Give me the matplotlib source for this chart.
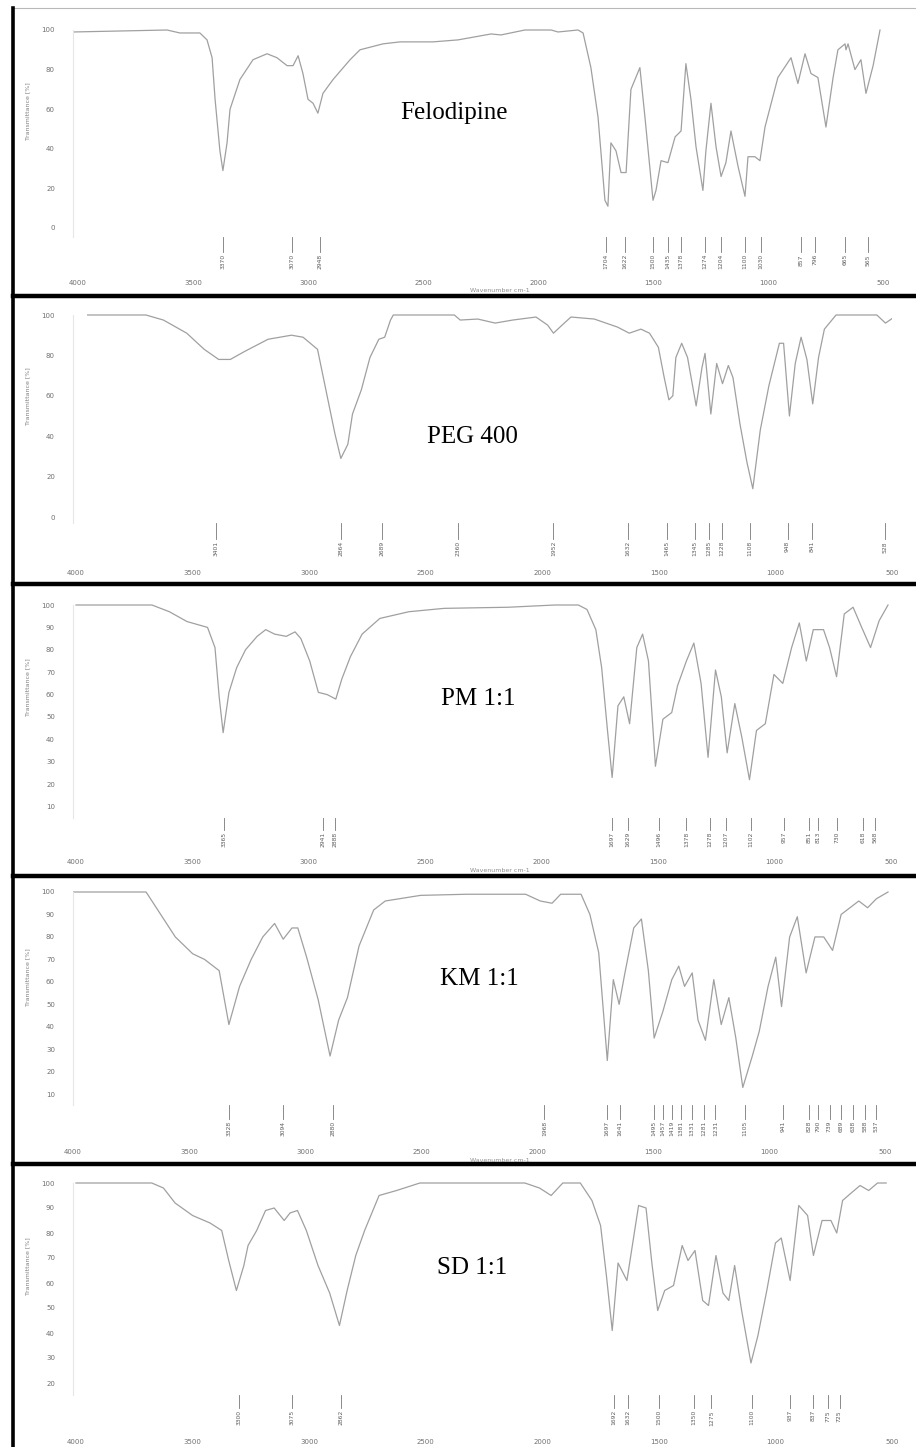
import matplotlib
matplotlib.use('Agg')
import matplotlib.pyplot as plt
from matplotlib.lines import Line2D

W, H = 916, 1447
plt.rcParams['font.family'] = ['Liberation Serif', 'DejaVu Serif']

# ---------------- data ----------------
x_ticks = [4000, 3500, 3000, 2500, 2000, 1500, 1000, 500]
x_tick_labels = ['4000', '3500', '3000', '2500', '2000', '1500', '1000', '500']

felo_wn = [4022, 3613, 3557, 3470, 3439, 3417, 3404, 3383, 3370, 3352, 3339, 3296, 3239, 3178, 3135,
           3091, 3065, 3043, 3022, 3000, 2978, 2957, 2935, 2891, 2817, 2774, 2674, 2600, 2457, 2348,
           2204, 2161, 2057, 1943, 1913, 1826, 1804, 1770, 1739, 1709, 1696, 1683, 1661, 1639, 1617,
           1596, 1557, 1535, 1500, 1487, 1465, 1435, 1404, 1378, 1357, 1335, 1313, 1283, 1270, 1248,
           1226, 1204, 1183, 1161, 1130, 1100, 1087, 1057, 1035, 1013, 957, 900, 870, 839, 813, 783,
           748, 717, 696, 665, 661, 652, 622, 596, 574, 543, 513]
felo_t = [99, 100, 98.5, 98.5, 95, 86, 65, 39, 29, 43, 60, 75, 85, 88, 86,
          82, 82, 87, 78, 65, 63, 58, 68, 75, 85, 90, 93, 94, 94, 95,
          98, 97.5, 100, 100, 99, 100, 98.5, 81, 56, 14, 11, 43, 39, 28, 28,
          70, 81, 56, 14, 19, 34, 33, 46, 49, 83, 65, 41, 19, 39, 63,
          41, 26, 33, 49, 31, 16, 36, 36, 34, 51, 76, 86, 73, 88, 78, 76,
          51, 76, 90, 93, 90, 93, 80, 85, 68, 82, 100]
felo_peaks = [3370, 3070, 2948, 1704, 1622, 1500, 1435, 1378, 1274, 1204, 1100, 1030, 857, 796, 665, 565]

peg_wn = [3950, 3700, 3625, 3525, 3450, 3388, 3338, 3276, 3176, 3076, 3026, 2964, 2939, 2914, 2889,
          2864, 2834, 2814, 2776, 2739, 2701, 2676, 2651, 2639, 2377, 2352, 2277, 2202, 2127, 2027,
          1977, 1952, 1915, 1877, 1777, 1677, 1627, 1577, 1540, 1502, 1477, 1457, 1440, 1427, 1402,
          1377, 1340, 1315, 1302, 1277, 1252, 1227, 1202, 1182, 1152, 1122, 1097, 1065, 1028, 983,
          965, 940, 915, 890, 865, 840, 815, 790, 740, 565, 528, 490]
peg_t = [100, 100, 97.5, 91, 83, 78, 78, 82, 88, 90, 89, 83, 69, 55, 41,
         29, 36, 51, 63, 79, 88, 89, 97.5, 100, 100, 97.5, 98, 96, 97.5, 99,
         95, 91, 95, 99, 98, 94, 91, 93, 91, 84, 69, 58, 60, 79, 86,
         79, 55, 74, 81, 51, 76, 66, 75, 69, 46, 27, 14, 43, 65, 86,
         86, 50, 76, 89, 78, 56, 79, 93, 100, 100, 96, 99]
peg_peaks = [3401, 2864, 2689, 2360, 1952, 1632, 1465, 1345, 1285, 1228, 1108, 948, 841, 528]

pm_wn = [4000, 3674, 3599, 3523, 3435, 3403, 3385, 3368, 3343, 3310, 3272, 3222, 3185, 3147, 3097,
         3059, 3034, 2996, 2959, 2921, 2884, 2858, 2821, 2771, 2695, 2570, 2419, 2143, 1943, 1842,
         1805, 1767, 1742, 1717, 1697, 1672, 1647, 1622, 1591, 1566, 1541, 1511, 1479, 1441, 1416,
         1378, 1346, 1315, 1285, 1253, 1228, 1203, 1170, 1140, 1107, 1077, 1039, 1002, 964, 926,
         893, 863, 833, 789, 763, 733, 700, 662, 625, 587, 550, 512]
pm_t = [100, 100, 97, 92.6, 90, 81, 59, 43, 61, 72, 80, 86, 89, 87, 86,
        88, 85, 75, 61, 60, 58, 67, 77, 87, 94, 97, 98.5, 99, 100, 100,
        98, 89, 72, 44, 23, 55, 59, 47, 81, 87, 75, 28, 49, 52, 64,
        75, 83, 65, 32, 71, 59, 34, 56, 41, 22, 44, 47, 69, 65, 81,
        92, 75, 89, 89, 81, 68, 96, 99, 90, 81, 93, 100]
pm_peaks = [3365, 2941, 2888, 1697, 1629, 1496, 1378, 1278, 1207, 1102, 957, 851, 813, 730, 618, 568]

km_wn = [4000, 3685, 3622, 3559, 3484, 3433, 3370, 3328, 3282, 3232, 3182, 3131, 3094, 3056, 3031,
         2993, 2943, 2892, 2855, 2817, 2767, 2704, 2654, 2502, 2302, 2049, 1986, 1935, 1898, 1810,
         1772, 1734, 1697, 1671, 1646, 1621, 1583, 1550, 1520, 1495, 1457, 1419, 1389, 1364, 1331,
         1306, 1274, 1238, 1206, 1173, 1143, 1113, 1072, 1042, 1004, 971, 946, 911, 878, 840,
         802, 764, 726, 689, 651, 613, 575, 537, 487]
km_t = [100, 100, 90, 80, 72.5, 70, 65, 41, 58, 70, 80, 86, 79, 84, 84,
        71, 52, 27, 43, 53, 76, 92, 96, 98.5, 99, 99, 96, 95, 99, 99,
        90, 73, 25, 61, 50, 64, 84, 88, 65, 35, 47, 61, 67, 58, 64,
        43, 34, 61, 41, 53, 35, 13, 27, 38, 58, 71, 49, 80, 89, 64,
        80, 80, 74, 90, 93, 96, 93, 97, 100]
km_peaks = [3328, 3094, 2880, 1968, 1697, 1641, 1495, 1457, 1419, 1381, 1331, 1281, 1231, 1105,
            941, 828, 790, 739, 689, 638, 588, 537]

sd_wn = [4000, 3675, 3625, 3575, 3500, 3425, 3375, 3345, 3312, 3280, 3262, 3225, 3187, 3150, 3107,
         3082, 3050, 3012, 2962, 2912, 2870, 2837, 2800, 2762, 2700, 2625, 2525, 2325, 2075, 2012,
         1962, 1912, 1837, 1787, 1750, 1725, 1700, 1675, 1637, 1612, 1587, 1555, 1530, 1505, 1475,
         1437, 1400, 1375, 1345, 1312, 1287, 1255, 1225, 1200, 1175, 1145, 1105, 1075, 1037, 1000,
         975, 937, 900, 862, 837, 800, 762, 737, 712, 675, 637, 600, 562, 525]
sd_t = [100, 100, 98, 92, 87, 84, 81, 69, 57, 67, 75, 81, 89, 90, 85,
        88, 89, 81, 67, 56, 43, 57, 71, 81, 95, 97, 100, 100, 100, 98,
        95, 100, 100, 93, 83, 63, 41, 68, 61, 76, 91, 90, 68, 49, 57,
        59, 75, 69, 73, 53, 51, 71, 56, 53, 67, 49, 28, 39, 57, 76,
        78, 61, 91, 87, 71, 85, 85, 80, 93, 96, 99, 97, 100, 100]
sd_peaks = [3300, 3075, 2862, 1692, 1632, 1500, 1350, 1275, 1100, 937, 837, 775, 725]

names = ['Felodipine', 'PEG 400', 'PM 1:1', 'KM 1:1', 'SD 1:1']
y_ticks_list = [[100, 80, 60, 40, 20, 0],
                [100, 80, 60, 40, 20, 0],
                [100, 90, 80, 70, 60, 50, 40, 30, 20, 10],
                [100, 90, 80, 70, 60, 50, 40, 30, 20, 10],
                [100, 90, 80, 70, 60, 50, 40, 30, 20]]

spectra = [(felo_wn, felo_t, felo_peaks), (peg_wn, peg_t, peg_peaks), (pm_wn, pm_t, pm_peaks),
           (km_wn, km_t, km_peaks), (sd_wn, sd_t, sd_peaks)]

# ---------------- layout (pixel geometry of each scanned panel) ----------------
layout = [
    dict(x0=78, sx=0.2300, y100=30, sy=1.98, top=20, bottom=277, mk=(237, 252), lab=254, name_xy=(454, 113), xlab_y=290),
    dict(x0=76, sx=0.2339, y100=315, sy=2.02, top=305, bottom=567, mk=(523, 539), lab=541, name_xy=(472, 437), xlab_y=None),
    dict(x0=76, sx=0.2328, y100=605, sy=2.24, top=592, bottom=856, mk=(818, 830), lab=832, name_xy=(478, 699), xlab_y=871),
    dict(x0=73, sx=0.2320, y100=892, sy=2.247, top=884, bottom=1146, mk=(1105, 1119), lab=1121, name_xy=(479, 979), xlab_y=1160),
    dict(x0=76, sx=0.2337, y100=1183, sy=2.50, top=1173, bottom=1436, mk=(1395, 1408), lab=1410, name_xy=(472, 1268), xlab_y=None),
]

fig = plt.figure(figsize=(W / 100, H / 100), dpi=100)
LEFT, RIGHT = 73, 892
line_col = '#a0a0a0'
tick_col = '#707070'

def T_of(py, L):
    return 100 - (py - L['y100']) / L['sy']

for (wn, tt, peaks), L, name, yt in zip(spectra, layout, names, y_ticks_list):
    ax = fig.add_axes([LEFT / W, 1 - L['bottom'] / H, (RIGHT - LEFT) / W, (L['bottom'] - L['top']) / H])
    ax.set_xlim(4000 - (LEFT - L['x0']) / L['sx'], 4000 - (RIGHT - L['x0']) / L['sx'])
    ax.set_ylim(T_of(L['bottom'], L), T_of(L['top'], L))
    ax.plot(wn, tt, color=line_col, lw=0.9)
    # peak markers
    t_top, t_bot = T_of(L['mk'][0], L), T_of(L['mk'][1], L)
    t_lab = T_of(L['lab'], L)
    for p in peaks:
        ax.plot([p, p], [t_top, t_bot], color='#777777', lw=0.6)
        ax.text(p, t_lab, str(p), rotation=90, ha='center', va='top', fontsize=4.3,
                color='#5c5c5c', family='DejaVu Sans')
    for s in ['top', 'right', 'bottom']:
        ax.spines[s].set_visible(False)
    ax.spines['left'].set_color('#e6e6e6')
    ax.spines['left'].set_linewidth(0.8)
    ax.spines['left'].set_bounds(T_of(L['mk'][0], L), 100)
    ax.set_xticks(x_ticks)
    ax.set_xticklabels(x_tick_labels, fontsize=5, color=tick_col, family='DejaVu Sans')
    ax.set_yticks(yt)
    ax.set_yticklabels([str(v) for v in yt], fontsize=5, color=tick_col, family='DejaVu Sans')
    ax.tick_params(axis='x', length=0, pad=2)
    ax.tick_params(axis='y', length=0, pad=13)
    ax.patch.set_alpha(0)
    # sample name
    fig.text(L['name_xy'][0] / W, 1 - L['name_xy'][1] / H, name, ha='center', va='center',
             fontsize=18, color='black')
    # y label
    fig.text(28 / W, 1 - (L['top'] + 0.42 * (L['mk'][0] - L['top'])) / H, 'Transmittance [%]',
             rotation=90, ha='center', va='center', fontsize=4.5, color='#808080', family='DejaVu Sans')
    if L['xlab_y'] is not None:
        fig.text(500 / W, 1 - L['xlab_y'] / H, 'Wavenumber cm-1', ha='center', va='center',
                 fontsize=4.5, color='#909090', family='DejaVu Sans')

# frame lines of the scanned collage
fig.add_artist(Line2D([13 / W, 1], [1 - 8 / H, 1 - 8 / H], color='#b8b8b8', lw=0.8))
for yb in [296, 584, 876, 1164]:
    fig.add_artist(Line2D([13 / W, 1], [1 - yb / H, 1 - yb / H], color='black', lw=3.2))
fig.add_artist(Line2D([13 / W, 13 / W], [1 - 8 / H, 0], color='black', lw=2.6))

fig.savefig('out.png', dpi=100, facecolor='white')
